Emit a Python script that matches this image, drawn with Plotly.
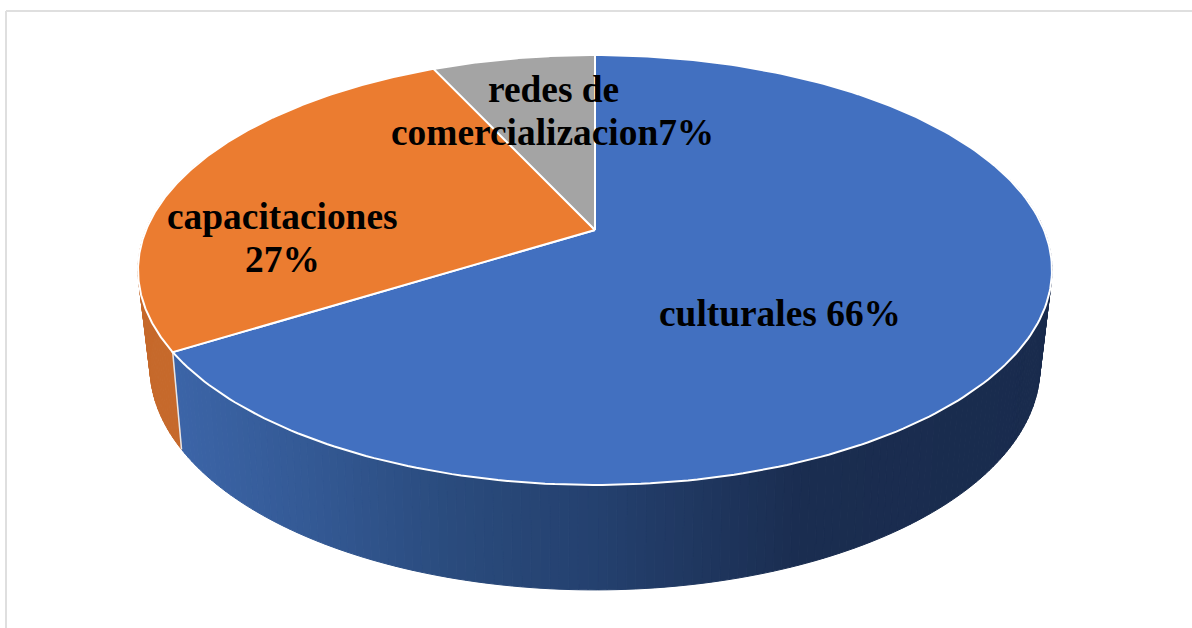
import numpy as np
import plotly.graph_objects as go

# ---- data -------------------------------------------------------------
categories = ["culturales", "capacitaciones", "redes de comercializacion"]
values = [66.1, 27.0, 6.9]
label_lines = ["culturales 66%", "capacitaciones", "27%", "redes de", "comercializacion7%"]

# ---- styles / geometry --------------------------------------------------
top_colors = ["#4270C0", "#EB7C30", "#A4A4A4"]
label_xy = [(780, 313), (282, 216), (282, 259), (553, 89), (552, 132)]
W, H = 1192, 628
TOP = dict(cx=595, c=230, a=449, b=207.5, p=0.186)
BOT = dict(cx=595, c=322.4, a=436, b=214, p=0.20)
# wall shade stops as (pixel x, rgb)
BLUE_X = [172, 300, 450, 600, 800, 1060]
BLUE_RGB = [(60, 101, 168), (52, 90, 150), (42, 75, 125), (36, 64, 110), (26, 45, 80), (25, 43, 77)]


def project(theta, g):
    """theta is clockwise from 12 o'clock, radians; perspective circle."""
    X, Y = np.sin(theta), np.cos(theta)
    d = 1 + g["p"] * Y
    return g["cx"] + g["a"] * X / d, g["c"] - g["b"] * Y / d


def shade(slice_index, x):
    if slice_index == 0:
        rgb = [np.interp(x, BLUE_X, [c[k] for c in BLUE_RGB]) for k in range(3)]
    elif slice_index == 1:
        rgb = (198, 105, 43)
    else:
        rgb = (124, 124, 124)
    return "rgb(%d,%d,%d)" % tuple(int(round(v)) for v in rgb)


fractions = np.array(values, dtype=float) / sum(values)
edges = np.concatenate([[0], np.cumsum(fractions)]) * 2 * np.pi

fig = go.Figure()

# side wall, one thin strip per small angle step (only the front half shows)
for i in range(len(values)):
    n = max(2, int(np.degrees(edges[i + 1] - edges[i]) / 1.0))
    t = np.linspace(edges[i], edges[i + 1], n + 1)
    for t0, t1 in zip(t[:-1], t[1:]):
        if np.cos((t0 + t1) / 2) > 0.35:
            continue
        seg = np.array([t0, t1])
        xa, ya = project(seg, TOP)
        xb, yb = project(seg[::-1], BOT)
        col = shade(i, (xa.mean() + xb.mean()) / 2)
        fig.add_trace(go.Scatter(
            x=np.r_[xa, xb, xa[0]], y=np.r_[ya, yb, ya[0]],
            mode="lines", fill="toself", fillcolor=col,
            line=dict(color=col, width=1), hoverinfo="skip", showlegend=False))

# seam between orange and blue wall
seam = np.array([edges[1]])
xa, ya = project(seam, TOP)
xb, yb = project(seam, BOT)
fig.add_trace(go.Scatter(x=[xa[0], xb[0]], y=[ya[0], yb[0]], mode="lines",
                         line=dict(color="#e4e6ea", width=1.5),
                         hoverinfo="skip", showlegend=False))

# top face slices
for i, name in enumerate(categories):
    t = np.linspace(edges[i], edges[i + 1], 240)
    x, y = project(t, TOP)
    fig.add_trace(go.Scatter(
        x=np.r_[TOP["cx"], x, TOP["cx"]], y=np.r_[TOP["c"], y, TOP["c"]],
        mode="lines", fill="toself", fillcolor=top_colors[i], name=name,
        line=dict(color="white", width=2), hoverinfo="skip", showlegend=False))

for text, (x, y) in zip(label_lines, label_xy):
    fig.add_annotation(x=x, y=y, text=text, showarrow=False, xref="x", yref="y",
                       align="center", yanchor="middle",
                       font=dict(family="Liberation Serif", size=37.4, color="black", weight="bold"))

frame = dict(type="line", xref="x", yref="y", line=dict(color="#dfdfdf", width=2), layer="below")
fig.add_shape(x0=6, y0=11, x1=W, y1=11, **frame)
fig.add_shape(x0=6, y0=11, x1=6, y1=H, **frame)

fig.update_layout(
    width=W, height=H, autosize=False,
    margin=dict(l=0, r=0, t=0, b=0, pad=0),
    paper_bgcolor="white", plot_bgcolor="white", showlegend=False,
    xaxis=dict(range=[0, W], visible=False, fixedrange=True),
    yaxis=dict(range=[H, 0], visible=False, fixedrange=True),
)
fig.write_html("out.html", post_script="document.body.style.margin='0';document.documentElement.style.overflow='hidden';",
               config={"displayModeBar": False})
